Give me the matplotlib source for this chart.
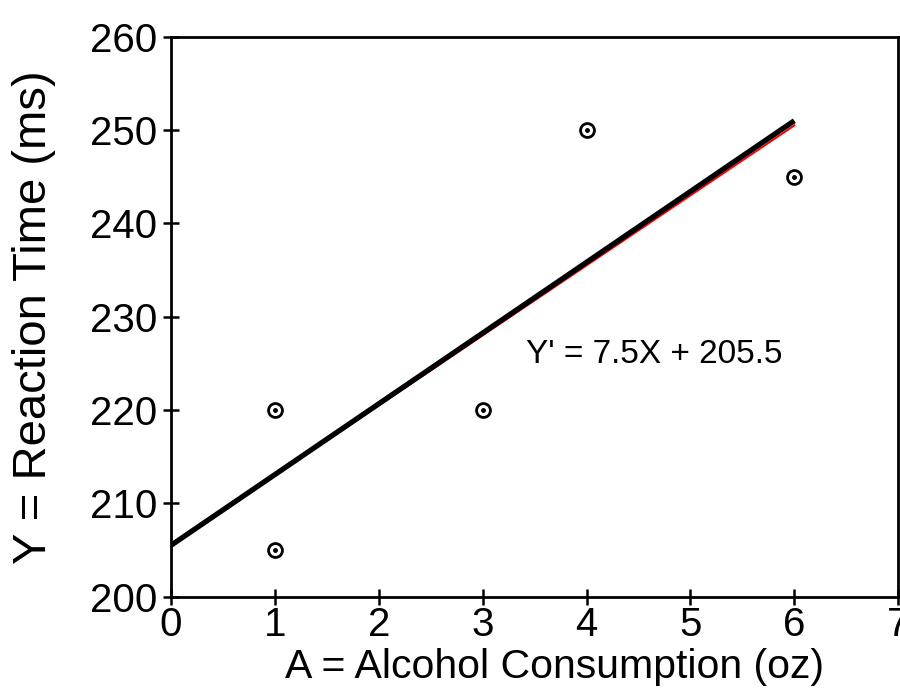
import numpy as np
import matplotlib.pyplot as plt

plt.rcParams['font.family'] = ['Liberation Sans', 'DejaVu Sans']

alcohol = [1, 1, 3, 4, 6]
reaction = [220, 205, 220, 250, 245]
slope, intercept = 7.5, 205.5
drawn_x = [0, 6]
drawn_y = [205.5, 251.0]

fig = plt.figure(figsize=(9, 6.93), dpi=100)
ax = fig.add_axes([0.19, 0.139, 0.808, 0.808])

# fitted line in red, hand-drawn line over it in black
fx = np.array([1, 6])
ax.plot(fx, slope * fx + intercept, color='red', lw=1.5, zorder=2)
ax.plot(drawn_x, drawn_y, color='black', lw=3.8, zorder=3,
        solid_capstyle='butt')

ax.plot(alcohol, reaction, 'o', ms=10, mfc='none', mec='black', mew=2, zorder=4)
ax.plot(alcohol, reaction, 'o', ms=2.5, color='black', zorder=4)

ax.text(3.42, 226, "Y' = 7.5X + 205.5", fontsize=24, va='center')

ax.set_xlim(0, 7)
ax.set_ylim(200, 260)
ax.set_xticks(range(0, 8))
ax.set_yticks(range(200, 261, 10))
ax.tick_params(direction='inout', length=12, width=1.8, labelsize=29, pad=4)
ax.tick_params(axis='x', pad=1)
for s in ax.spines.values():
    s.set_linewidth(2)
ax.set_xlabel('A = Alcohol Consumption (oz)', fontsize=29.5)
ax.set_ylabel('Y = Reaction Time (ms)', fontsize=34)
ax.xaxis.set_label_coords(0.528, -0.092)
ax.yaxis.set_label_coords(-0.158, 0.5)

fig.savefig('out.png', dpi=100)
